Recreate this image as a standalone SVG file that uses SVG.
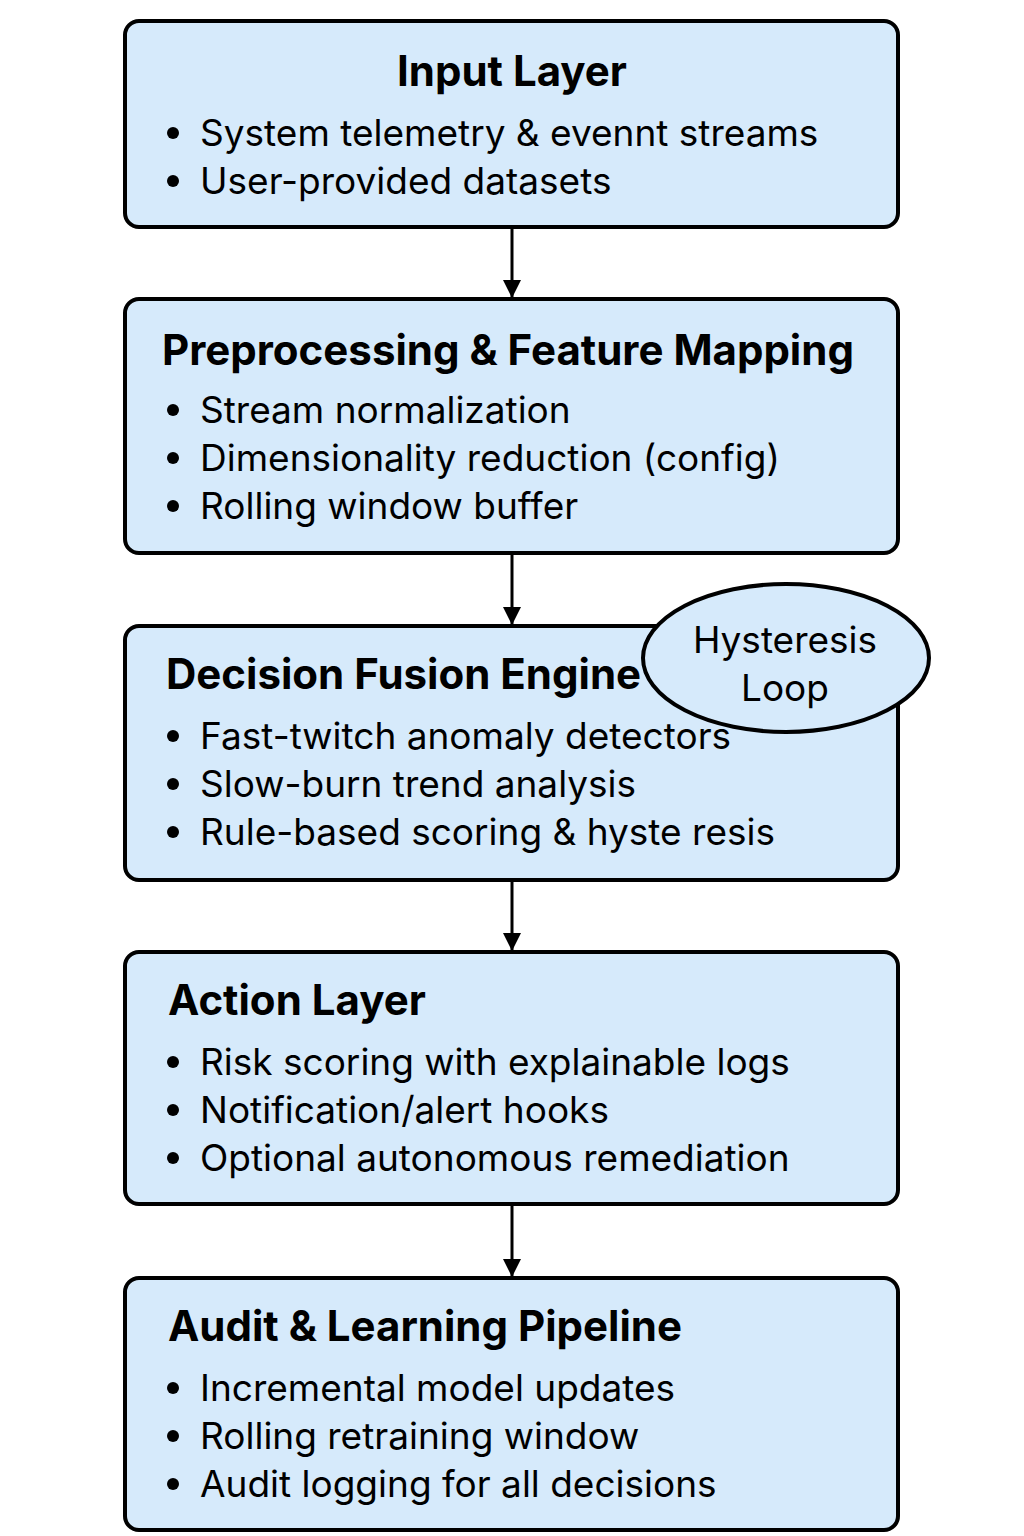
<svg xmlns="http://www.w3.org/2000/svg" width="1024" height="1536" viewBox="0 0 1024 1536">
<defs>
<style>
.box{fill:#d6eafb;stroke:#000;stroke-width:4}
.t{font-family:Inter,"Noto Sans","Liberation Sans",sans-serif;font-weight:700;font-size:42px;fill:#000}
.b{font-family:Inter,"Noto Sans","Liberation Sans",sans-serif;font-size:37px;fill:#000}
.h{font-family:Inter,"Noto Sans","Liberation Sans",sans-serif;font-size:37px;fill:#000}
.c{stroke:#000;stroke-width:3;fill:none}
</style>
<marker id="ah" markerWidth="18" markerHeight="20" refX="18" refY="9" orient="auto" markerUnits="userSpaceOnUse" viewBox="0 0 18 18"><path d="M0,0 L18,9 L0,18 z" fill="#000"/></marker>
</defs>
<rect width="1024" height="1536" fill="#fff"/>
<g id="connectors">
<line class="c" x1="512" y1="227" x2="512" y2="298" marker-end="url(#ah)"/>
<line class="c" x1="512" y1="553" x2="512" y2="625" marker-end="url(#ah)"/>
<line class="c" x1="512" y1="880" x2="512" y2="951" marker-end="url(#ah)"/>
<line class="c" x1="512" y1="1204" x2="512" y2="1277" marker-end="url(#ah)"/>
</g>
<g id="input">
<rect class="box" x="125" y="21" width="773" height="206" rx="14"/>
<text class="t" x="512" y="86" text-anchor="middle">Input Layer</text>
<text class="b" x="200" y="146">System telemetry &amp; evennt streams</text>
<text class="b" x="200" y="194">User-provided datasets</text>
<circle cx="173" cy="133" r="6"/><circle cx="173" cy="181" r="6"/>
</g>
<g id="preprocessing">
<rect class="box" x="125" y="299" width="773" height="254" rx="14"/>
<text class="t" x="162" y="365">Preprocessing &amp; Feature Mapping</text>
<text class="b" x="200" y="423">Stream normalization</text>
<text class="b" x="200" y="471">Dimensionality reduction (config)</text>
<text class="b" x="200" y="519">Rolling window buffer</text>
<circle cx="173" cy="410" r="6"/><circle cx="173" cy="458" r="6"/><circle cx="173" cy="506" r="6"/>
</g>
<g id="fusion">
<rect class="box" x="125" y="626" width="773" height="254" rx="14"/>
<text class="t" x="166" y="689">Decision Fusion Engine</text>
<text class="b" x="200" y="749">Fast-twitch anomaly detectors</text>
<text class="b" x="200" y="797">Slow-burn trend analysis</text>
<text class="b" x="200" y="845">Rule-based scoring &amp; hyste resis</text>
<circle cx="173" cy="736" r="6"/><circle cx="173" cy="784" r="6"/><circle cx="173" cy="832" r="6"/>
</g>
<g id="hysteresis">
<ellipse class="box" cx="786" cy="658" rx="143" ry="74"/>
<text class="h" x="785" y="653" text-anchor="middle">Hysteresis</text>
<text class="h" x="785" y="701" text-anchor="middle">Loop</text>
</g>
<g id="action">
<rect class="box" x="125" y="952" width="773" height="252" rx="14"/>
<text class="t" x="168" y="1015">Action Layer</text>
<text class="b" x="200" y="1075">Risk scoring with explainable logs</text>
<text class="b" x="200" y="1123">Notification/alert hooks</text>
<text class="b" x="200" y="1171">Optional autonomous remediation</text>
<circle cx="173" cy="1062" r="6"/><circle cx="173" cy="1110" r="6"/><circle cx="173" cy="1158" r="6"/>
</g>
<g id="audit">
<rect class="box" x="125" y="1278" width="773" height="252" rx="14"/>
<text class="t" x="168" y="1341">Audit &amp; Learning Pipeline</text>
<text class="b" x="200" y="1401">Incremental model updates</text>
<text class="b" x="200" y="1449">Rolling retraining window</text>
<text class="b" x="200" y="1497">Audit logging for all decisions</text>
<circle cx="173" cy="1388" r="6"/><circle cx="173" cy="1436" r="6"/><circle cx="173" cy="1484" r="6"/>
</g>
</svg>
